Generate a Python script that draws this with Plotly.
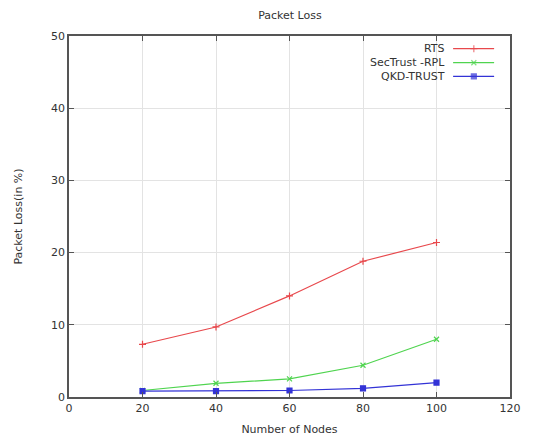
import plotly.graph_objects as go

nodes = [20, 40, 60, 80, 100]
rts = [7.3, 9.7, 14.0, 18.8, 21.4]
sectrust = [0.9, 1.9, 2.5, 4.4, 8.0]
qkd = [0.8, 0.8, 0.9, 1.2, 2.0]

names = ["RTS", "SecTrust -RPL", "QKD-TRUST"]
colors = ["#e8484c", "#4fd44f", "#3333d6"]
symbols = ["cross-thin", "x-thin", "square"]
series = [rts, sectrust, qkd]

FONT = "DejaVu Sans"

fig = go.Figure()
for name, col, sym, vals in zip(names, colors, symbols, series):
    fig.add_trace(go.Scatter(
        x=nodes, y=vals, mode="lines+markers", name=name,
        line=dict(color=col, width=1.2),
        marker=dict(symbol=sym, size=5, color=col,
                    line=dict(color=col, width=1.2)),
        showlegend=False, xaxis="x", yaxis="y"))

# gnuplot-style key: text on the left, sample on the right
key_y = [0.965, 0.926, 0.888]
for name, col, sym, ky in zip(names, colors, symbols, key_y):
    fig.add_trace(go.Scatter(
        x=[0.871, 0.918, 0.964], y=[ky, ky, ky], mode="lines+markers",
        line=dict(color=col, width=1.2),
        marker=dict(symbol=sym, size=[0, 5, 0], color=col,
                    line=dict(color=col, width=1.2)),
        showlegend=False, hoverinfo="skip", xaxis="x2", yaxis="y2"))
    fig.add_annotation(text=name, xref="x2", yref="y2", x=0.856, y=ky,
                       xanchor="right", yanchor="middle", showarrow=False,
                       font=dict(family=FONT, size=11, color="#333333"))

axis_common = dict(showline=True, linecolor="#555555", linewidth=1.5,
                   mirror="allticks", ticks="inside", ticklen=5,
                   tickcolor="#555555", showgrid=True, gridcolor="#e3e3e3",
                   gridwidth=1, zeroline=False, automargin=False,
                   tickfont=dict(family=FONT, size=11, color="#333333"))

fig.update_layout(
    width=545, height=439,
    margin=dict(l=69, r=35, t=36, b=42),
    paper_bgcolor="white", plot_bgcolor="white",
    title=dict(text="Packet Loss", x=0.532, xanchor="center", y=0.965,
               yanchor="middle", font=dict(family=FONT, size=11, color="#333333")),
    xaxis=dict(range=[0, 120], dtick=20,
               title=dict(text="Number of Nodes", standoff=11,
                          font=dict(family=FONT, size=11, color="#333333")),
               **axis_common),
    yaxis=dict(range=[0, 50], dtick=10,
               title=dict(text="Packet Loss(in %)", standoff=26,
                          font=dict(family=FONT, size=11, color="#333333")),
               **axis_common),
    xaxis2=dict(range=[0, 1], overlaying="x", visible=False, fixedrange=True),
    yaxis2=dict(range=[0, 1], overlaying="y", visible=False, fixedrange=True),
)

fig.write_html("out.html")
